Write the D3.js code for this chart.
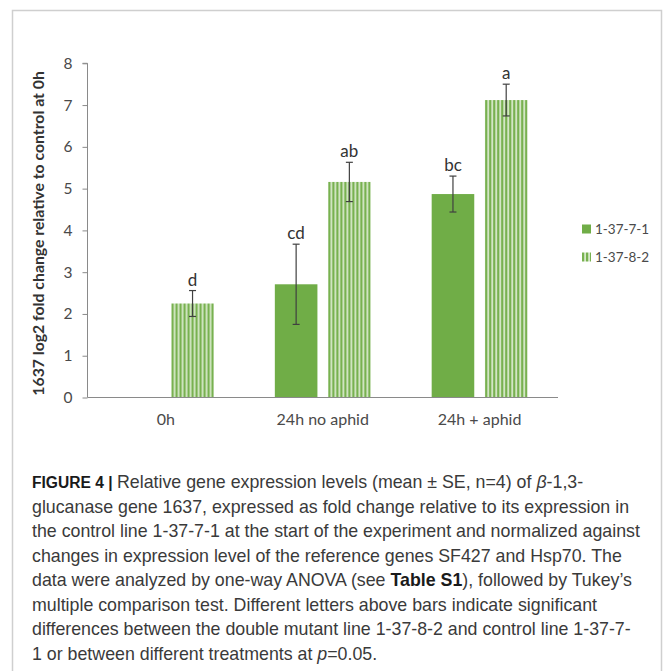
<!DOCTYPE html>
<html>
<head>
<meta charset="utf-8">
<script src="https://cdn.jsdelivr.net/npm/d3@7"></script>
<style>
  html, body { margin: 0; padding: 0; background: #fff; }
  svg { display: block; }
</style>
</head>
<body>
<svg id="chart" width="663" height="671"></svg>
<script>
// ---- data ----
const categories = ["0h", "24h no aphid", "24h + aphid"];
const seriesNames = ["1-37-7-1", "1-37-8-2"];
const valuesControl = [0, 2.71, 4.87];      // 1-37-7-1
const valuesMutant  = [2.25, 5.16, 7.12];   // 1-37-8-2
const errControl = [0, 0.96, 0.43];
const errMutant  = [0.31, 0.47, 0.38];
const lettersControl = ["", "cd", "bc"];
const lettersMutant  = ["d", "ab", "a"];
const yTicks = [0, 1, 2, 3, 4, 5, 6, 7, 8];
const yTitle = "1637 log2 fold change relative to control at 0h";
const captionLines = [
  [{t: "FIGURE 4", s: "b"}, {t: " | ", s: "bar"}, {t: "Relative gene expression levels (mean ± SE, n=4) of "}, {t: "β", s: "i"}, {t: "-1,3-"}],
  [{t: "glucanase gene 1637, expressed as fold change relative to its expression in"}],
  [{t: "the control line 1-37-7-1 at the start of the experiment and normalized against"}],
  [{t: "changes in expression level of the reference genes SF427 and Hsp70. The"}],
  [{t: "data were analyzed by one-way ANOVA (see "}, {t: "Table S1", s: "b2"}, {t: "), followed by Tukey’s"}],
  [{t: "multiple comparison test. Different letters above bars indicate significant"}],
  [{t: "differences between the double mutant line 1-37-8-2 and control line 1-37-7-"}],
  [{t: "1 or between different treatments at "}, {t: "p", s: "i"}, {t: "=0.05."}]
];

const rows = categories.map((c, i) => ({
  cat: c,
  bars: [
    {s: seriesNames[0], v: valuesControl[i], e: errControl[i], l: lettersControl[i]},
    {s: seriesNames[1], v: valuesMutant[i], e: errMutant[i], l: lettersMutant[i]}
  ]
}));

const svg = d3.select("#chart");
const W = 663, H = 671;
svg.append("rect").attr("width", W).attr("height", H).attr("fill", "#fff");

// frame
svg.append("path")
  .attr("d", `M12.5,${H} L12.5,10.5 L661.5,10.5 L661.5,${H}`)
  .attr("fill", "none").attr("stroke", "#cfcfcf").attr("stroke-width", 1.5);

// pattern
const defs = svg.append("defs");
const pat = defs.append("pattern").attr("id", "vstripe")
  .attr("patternUnits", "userSpaceOnUse").attr("width", 4).attr("height", 4);
pat.append("rect").attr("width", 4).attr("height", 4).attr("fill", "#d6e8c9");
pat.append("rect").attr("x", 0).attr("width", 2.2).attr("height", 4).attr("fill", "#78b150");

const colorFill = {"1-37-7-1": "#70ad47", "1-37-8-2": "url(#vstripe)"};

// scales
const plotLeft = 87.5, plotRight = 558, plotTop = 63.3, plotBottom = 397.5;
const y = d3.scaleLinear().domain([0, 8]).range([plotBottom, plotTop]);
const x0 = d3.scaleBand().domain(categories).range([plotLeft, plotRight]).padding(0);
const x1 = d3.scaleBand().domain(seriesNames).range([0, x0.bandwidth()])
  .paddingInner(0.2).paddingOuter(0.573);

const chartFont = "Lato, 'Open Sans', sans-serif";

// bars
const g = svg.append("g");
const grp = g.selectAll("g.grp").data(rows).enter().append("g")
  .attr("transform", d => `translate(${x0(d.cat)},0)`);

grp.selectAll("rect.bar").data(d => d.bars.filter(b => b.v > 0)).enter().append("rect")
  .attr("x", d => x1(d.s)).attr("width", x1.bandwidth())
  .attr("y", d => y(d.v)).attr("height", d => y(0) - y(d.v))
  .attr("fill", d => colorFill[d.s]);

// error bars
const eb = grp.selectAll("g.eb").data(d => d.bars.filter(b => b.e > 0)).enter().append("g")
  .attr("stroke", "#404040").attr("stroke-width", 1.2);
eb.append("line")
  .attr("x1", d => x1(d.s) + x1.bandwidth() / 2).attr("x2", d => x1(d.s) + x1.bandwidth() / 2)
  .attr("y1", d => y(d.v + d.e)).attr("y2", d => y(d.v - d.e));
[1, -1].forEach(sg => {
  eb.append("line")
    .attr("x1", d => x1(d.s) + x1.bandwidth() / 2 - 3.5).attr("x2", d => x1(d.s) + x1.bandwidth() / 2 + 3.5)
    .attr("y1", d => y(d.v + sg * d.e)).attr("y2", d => y(d.v + sg * d.e));
});

// letters
grp.selectAll("text.lt").data(d => d.bars.filter(b => b.l)).enter().append("text")
  .attr("x", d => x1(d.s) + x1.bandwidth() / 2)
  .attr("y", d => y(d.v + d.e) - 5)
  .attr("text-anchor", "middle")
  .attr("font-family", chartFont).attr("font-size", 17)
  .attr("fill", "#333").text(d => d.l);

// axes
const axisColor = "#8a8a8a";
const yAxis = svg.append("g").attr("transform", `translate(${plotLeft},0)`)
  .call(d3.axisLeft(y).tickValues(yTicks).tickSize(5).tickPadding(10).tickFormat(d3.format("d")));
yAxis.select(".domain").attr("stroke", axisColor).attr("d", `M-5,${plotTop}H0V${plotBottom}`);
yAxis.selectAll(".tick line").attr("stroke", axisColor);
yAxis.selectAll(".tick text").attr("font-family", chartFont).attr("font-size", 15.5).attr("fill", "#4a4a4a");

const xAxis = svg.append("g").attr("transform", `translate(0,${plotBottom})`)
  .call(d3.axisBottom(x0).tickSize(0).tickPadding(16));
xAxis.select(".domain").attr("stroke", axisColor).attr("d", `M${plotLeft},0H${plotRight}`);
xAxis.selectAll(".tick text").attr("font-family", chartFont).attr("font-size", 16).attr("fill", "#4a4a4a");

// y title
svg.append("text")
  .attr("transform", `translate(43.5,${(plotTop + plotBottom) / 2 + 3}) rotate(-90)`)
  .attr("text-anchor", "middle")
  .attr("font-family", chartFont).attr("font-weight", "bold").attr("font-size", 15.8)
  .attr("fill", "#333").text(yTitle);

// legend
const leg = svg.append("g").selectAll("g").data(seriesNames).enter().append("g")
  .attr("transform", (d, i) => `translate(582,${229 + i * 28})`);
leg.append("rect").attr("x", 0).attr("y", -4.5).attr("width", 9).attr("height", 9)
  .attr("fill", d => colorFill[d]);
leg.append("text").attr("x", 13).attr("y", 5)
  .attr("font-family", chartFont).attr("font-size", 13.5).attr("fill", "#4a4a4a").text(d => d);

// caption
const cap = svg.append("g");
captionLines.forEach((line, i) => {
  const t = cap.append("text").attr("x", 32).attr("y", 488 + i * 24.5)
    .attr("font-family", "'Liberation Sans', Arial, sans-serif").attr("font-size", 17.8)
    .attr("fill", "#3a3a3a");
  line.forEach(seg => {
    const ts = t.append("tspan").text(seg.t);
    if (seg.s === "b") ts.attr("font-weight", "bold").attr("fill", "#1a1a1a").attr("font-size", 15.6);
    if (seg.s === "b2") ts.attr("font-weight", "bold").attr("fill", "#1a1a1a");
    if (seg.s === "i") ts.attr("font-style", "italic");
    if (seg.s === "bar") ts.attr("fill", "#1a1a1a").attr("font-weight", "bold").attr("font-size", 15.6);
  });
});
</script>
</body>
</html>
